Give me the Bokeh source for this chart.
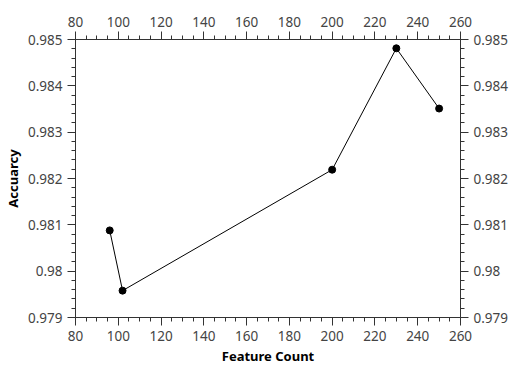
from bokeh.plotting import figure
from bokeh.models import LinearAxis, FixedTicker, Range1d, NumeralTickFormatter
from bokeh.embed import file_html
from bokeh.resources import INLINE

feature_count = [96, 102, 200, 230, 250]
accuracy = [0.98088, 0.97958, 0.98219, 0.98481, 0.98351]

x_ticks = [80, 100, 120, 140, 160, 180, 200, 220, 240, 260]
x_minor = list(range(80, 261, 5))
y_ticks = [0.979, 0.980, 0.981, 0.982, 0.983, 0.984, 0.985]
y_minor = [round(0.979 + i * 0.0002, 4) for i in range(31)]

FONT = "Noto Sans"
LINE = "#333333"
LABEL = "#444444"

p = figure(width=511, height=369, output_backend="svg", toolbar_location=None,
           x_range=Range1d(80, 260), y_range=Range1d(0.979, 0.985),
           min_border_left=75, min_border_right=50, min_border_top=39, min_border_bottom=52,
           x_axis_label="Feature Count", y_axis_label="Accuarcy")
p.grid.visible = False
p.outline_line_color = None

p.line(feature_count, accuracy, line_color="black", line_width=1)
p.scatter(feature_count, accuracy, size=7, fill_color="black", line_color="black")

p.add_layout(LinearAxis(), "above")
p.add_layout(LinearAxis(), "right")

for ax in p.xaxis:
    ax.ticker = FixedTicker(ticks=x_ticks, minor_ticks=x_minor)
for ax in p.yaxis:
    ax.ticker = FixedTicker(ticks=y_ticks, minor_ticks=y_minor)
    ax.formatter = NumeralTickFormatter(format="0.[000]")

for ax in p.axis:
    ax.axis_line_color = LINE
    ax.major_tick_line_color = LINE
    ax.minor_tick_line_color = LINE
    ax.major_tick_out = 8
    ax.major_tick_in = 0
    ax.minor_tick_out = 4
    ax.minor_tick_in = 0
    ax.major_label_text_font = FONT
    ax.major_label_text_font_size = "13.5px"
    ax.major_label_text_color = LABEL
    ax.major_label_standoff = 5
    ax.axis_label_text_font = FONT
    ax.axis_label_text_font_size = "13px"
    ax.axis_label_text_font_style = "bold"
    ax.axis_label_text_color = "black"
    ax.axis_label_standoff = 3

open("out.html", "w").write(file_html(p, INLINE))
